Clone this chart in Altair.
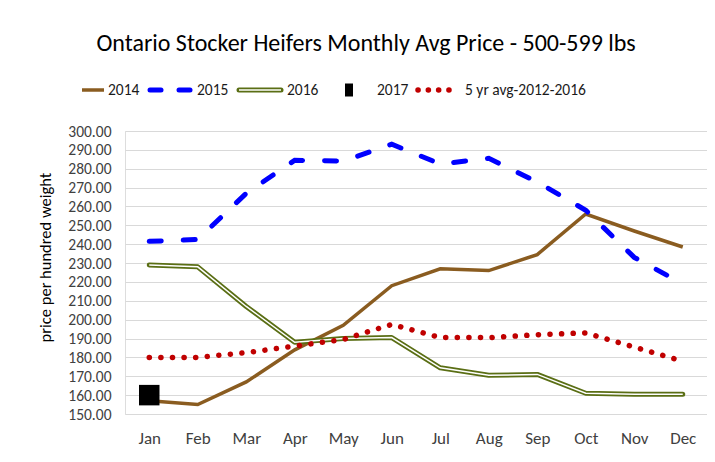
import altair as alt
import pandas as pd

months = ["Jan", "Feb", "Mar", "Apr", "May", "Jun", "Jul", "Aug", "Sep", "Oct", "Nov", "Dec"]
y2014 = [157, 155, 167, 184, 197, 218, 227, 226, 234.5, 256, 247, 238.5]
y2015 = [241.5, 242.5, 267, 284.5, 284, 293, 282.5, 285.5, 273, 258, 233, 219]
y2016 = [229, 228, 207, 188, 190, 190.5, 174.5, 170.5, 171, 161, 160.5, 160.5]
y2017 = [160]
yavg = [180, 180, 182.5, 186, 189.5, 197.5, 190.5, 190.5, 192, 193, 185.5, 178]
y_ticks = [150 + 10 * i for i in range(16)]

FONT = "Carlito, Calibri, Lato, sans-serif"
TITLE = "Ontario Stocker Heifers Monthly Avg Price - 500-599 lbs"

def frame(vals):
    return pd.DataFrame({"month": months[:len(vals)], "price": vals})

x_enc = alt.X("month:N", sort=months, title=None,
              scale=alt.Scale(type="point", padding=0.5, domain=months),
              axis=alt.Axis(labelFont=FONT, labelFontSize=17, labelColor="#404040",
                            labelPadding=16, ticks=False, domain=False, grid=False,
                            labelAngle=0))
y_enc = alt.Y("price:Q", title="price per hundred weight",
              scale=alt.Scale(domain=[150, 300], nice=False, zero=False),
              axis=alt.Axis(values=y_ticks, format=".2f", labelFont=FONT, labelFontSize=15.5,
                            labelColor="#404040", labelPadding=14, ticks=False, domain=False,
                            gridColor="#d9d9d9", gridWidth=1,
                            titleFont=FONT, titleFontSize=16.5, titleFontWeight=500,
                            titleColor="#000000", titleAngle=270, titleX=-80, titleY=126,
                            titleAlign="center", titleBaseline="middle"))

BROWN = "#8a5c20"
BLUE = "#0000ff"
OLIVE = "#5a6e14"
RED = "#c00000"

l2014 = alt.Chart(frame(y2014)).mark_line(color=BROWN, strokeWidth=3.5).encode(x=x_enc, y=y_enc)
l2015 = alt.Chart(frame(y2015)).mark_line(color=BLUE, strokeWidth=5, strokeDash=[12, 22],
                                           strokeCap="round").encode(x=x_enc, y=y_enc)
l2016a = alt.Chart(frame(y2016)).mark_line(color=OLIVE, strokeWidth=5, strokeCap="round",
                                            strokeJoin="round").encode(x=x_enc, y=y_enc)
l2016b = alt.Chart(frame(y2016)).mark_line(color="white", strokeWidth=1.5).encode(x=x_enc, y=y_enc)
p2017 = alt.Chart(frame(y2017)).mark_square(color="black", size=420, opacity=1).encode(x=x_enc, y=y_enc)
lavg = alt.Chart(frame(yavg)).mark_line(color=RED, strokeWidth=5.5, strokeDash=[0.1, 11.5],
                                         strokeCap="round").encode(x=x_enc, y=y_enc)

# chart title
title = alt.Chart().mark_text(text=TITLE, font=FONT, fontSize=24, align="center",
                              baseline="alphabetic", color="#000000").encode(
    x=alt.value(241), y=alt.value(-80))

# legend (drawn manually above the plot)
LY = -41
leg = []
leg.append(alt.Chart().mark_rule(color=BROWN, strokeWidth=3.5).encode(
    x=alt.value(-43), x2=alt.value(-21), y=alt.value(LY)))
leg.append(alt.Chart().mark_rule(color=BLUE, strokeWidth=5, strokeCap="round").encode(
    x=alt.value(25), x2=alt.value(36), y=alt.value(LY)))
leg.append(alt.Chart().mark_rule(color=BLUE, strokeWidth=5, strokeCap="round").encode(
    x=alt.value(54), x2=alt.value(65), y=alt.value(LY)))
leg.append(alt.Chart().mark_rule(color=OLIVE, strokeWidth=5, strokeCap="round").encode(
    x=alt.value(114), x2=alt.value(156), y=alt.value(LY)))
leg.append(alt.Chart().mark_rule(color="white", strokeWidth=1.5).encode(
    x=alt.value(114), x2=alt.value(156), y=alt.value(LY)))
leg.append(alt.Chart().mark_rect(color="black").encode(
    x=alt.value(220), x2=alt.value(228), y=alt.value(LY - 6.5), y2=alt.value(LY + 6.5)))
leg.append(alt.Chart().mark_rule(color=RED, strokeWidth=5.5, strokeDash=[0.1, 10.2],
                                 strokeCap="round").encode(
    x=alt.value(293), x2=alt.value(334), y=alt.value(LY)))
for label, xpos in [("2014", -17), ("2015", 72), ("2016", 162), ("2017", 252),
                    ("5 yr avg-2012-2016", 340)]:
    leg.append(alt.Chart().mark_text(text=label, font=FONT, fontSize=15.5, align="left",
                                     baseline="middle", color="#1a1a1a").encode(
        x=alt.value(xpos), y=alt.value(LY)))

chart = alt.layer(l2014, l2015, l2016a, l2016b, p2017, lavg, title, *leg).properties(
    width=582, height=283,
    autosize=alt.AutoSizeParams(type="none"),
    padding={"left": 117, "top": 123, "right": 0, "bottom": 40},
).configure_view(stroke=None).configure(background="white")

chart.save("out.html", embed_options={"renderer": "svg", "actions": False})
